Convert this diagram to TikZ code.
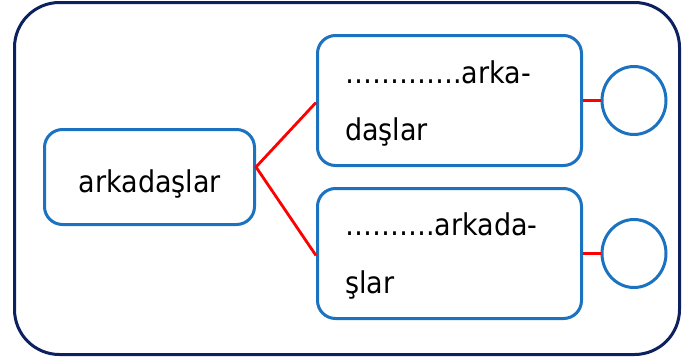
\documentclass[tikz,border=0pt]{standalone}
\usepackage{fontspec}
\setmainfont{DejaVu Sans Condensed}
\usetikzlibrary{shapes.geometric}
\definecolor{boxblue}{HTML}{1A72C0}
\definecolor{navyline}{HTML}{0D2160}
\definecolor{redline}{HTML}{FF0000}
\begin{document}
\begin{tikzpicture}[x=1pt,y=-1pt,
  framebox/.style={draw=navyline, line width=3pt, rounded corners=45pt},
  wordbox/.style={draw=boxblue, line width=3pt, rounded corners=18pt, inner sep=0pt, fill=white},
  ring/.style={ellipse, draw=boxblue, line width=3pt, minimum width=64pt, minimum height=68pt, inner sep=0pt},
  link/.style={draw=redline, line width=2.8pt},
  lbl/.style={inner sep=0pt, font=\fontsize{30}{36}\selectfont}]
\useasboundingbox (0,0) rectangle (694,362);
\draw[framebox] (14.5,2.5) rectangle (679.5,354.5);
\node[wordbox, minimum width=210pt, minimum height=95pt] (left) at (149.5,177) {};
\coordinate (apex) at ([yshift=10pt]left.east);
\node[wordbox, minimum width=264pt, minimum height=130pt] (top) at (449.5,100.5) {};
\node[wordbox, minimum width=264pt, minimum height=130pt] (bot) at (449.5,253.5) {};
\node[ring] (c1) at (634,100.5) {};
\node[ring] (c2) at (634,253.5) {};
\draw[link] ([yshift=-2pt]top.west) -- (apex) -- ([yshift=-2pt]bot.west);
\draw[link] (top.east) -- (c1.west);
\draw[link] (bot.east) -- (c2.west);
\node[lbl, anchor=base] (t0) at (150,192) {arkadaşlar};
\node[lbl, anchor=base west] (t1) at (345,83) {………….arka-};
\node[lbl, anchor=base west] (t2) at (345,140) {daşlar};
\node[lbl, anchor=base west] (t3) at (345,235) {……….arkada-};
\node[lbl, anchor=base west] (t4) at (345,293) {şlar};
\end{tikzpicture}
\end{document}
